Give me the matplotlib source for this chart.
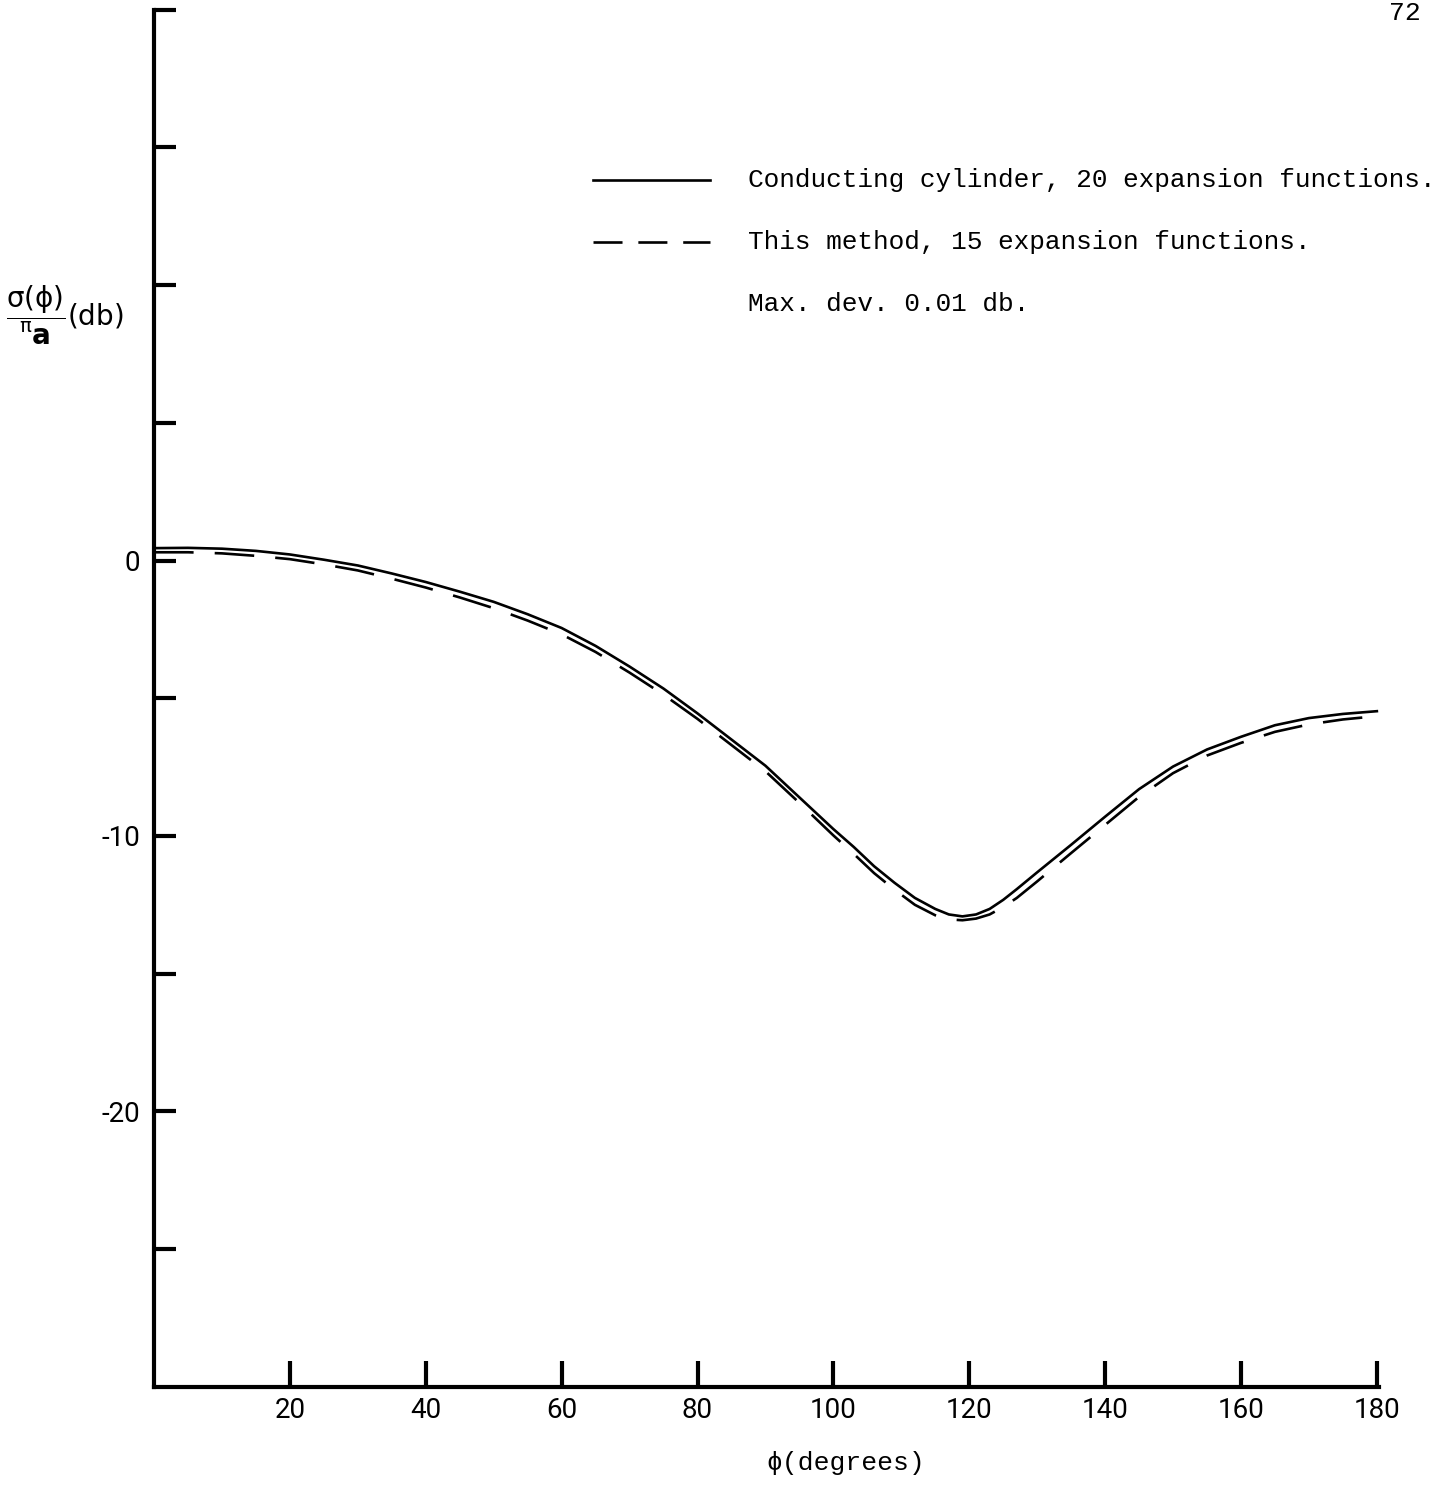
import matplotlib.pyplot as plt
from matplotlib.lines import Line2D

plt.rcParams['mathtext.default'] = 'regular'

# phi in degrees, sigma/(pi a) in db
phi_solid = [0, 5, 10, 15, 20, 25, 30, 35, 40, 45, 50, 55, 60, 65, 70, 75, 80, 85, 90,
             95, 100, 103, 106, 109, 112, 115, 117, 119, 121, 123, 125, 127, 130, 135,
             140, 145, 150, 155, 160, 165, 170, 175, 180]
sigma_solid = [0.45, 0.46, 0.43, 0.35, 0.22, 0.03, -0.18, -0.47, -0.78, -1.13, -1.5,
               -1.95, -2.45, -3.1, -3.85, -4.65, -5.55, -6.5, -7.45, -8.6, -9.75,
               -10.4, -11.1, -11.7, -12.25, -12.65, -12.85, -12.92, -12.85, -12.65,
               -12.32, -11.93, -11.32, -10.32, -9.3, -8.3, -7.48, -6.86, -6.4, -5.98,
               -5.72, -5.57, -5.47]

phi_dashed = [0, 5, 10, 15, 20, 25, 30, 35, 40, 45, 50, 55, 60, 65, 70, 75, 80, 85, 90,
              95, 100, 103, 106, 109, 112, 115, 117, 119, 121, 123, 125, 127, 130, 135,
              140, 145, 150, 155, 160, 165, 170, 175, 180]
sigma_dashed = [0.3, 0.3, 0.26, 0.17, 0.05, -0.14, -0.36, -0.66, -0.98, -1.34, -1.73,
                -2.18, -2.68, -3.32, -4.07, -4.87, -5.75, -6.7, -7.65, -8.8, -9.98,
                -10.65, -11.35, -11.95, -12.5, -12.88, -13.03, -13.06, -13.0, -12.85,
                -12.58, -12.25, -11.65, -10.62, -9.6, -8.58, -7.72, -7.08, -6.62, -6.22,
                -5.95, -5.77, -5.65]

x_ticks = [20, 40, 60, 80, 100, 120, 140, 160, 180]
y_ticks = [-25, -20, -15, -10, -5, 0, 5, 10, 15, 20]
y_labels = {0: '0', -10: '-10', -20: '-20'}

legend_labels = ['Conducting cylinder, 20 expansion functions.',
                 'This method, 15 expansion functions.',
                 'Max. dev. 0.01 db.']

mono = 'Liberation Mono'

fig = plt.figure(figsize=(14.53, 14.88), dpi=100)
ax = fig.add_axes([0.106, 0.068, 0.843, 0.9255])

ax.plot(phi_solid, sigma_solid, color='black', linewidth=1.9)
ax.plot(phi_dashed, sigma_dashed, color='black', linewidth=1.9,
        linestyle=(0, (15, 8)))

ax.set_xlim(0, 180.3)
ax.set_ylim(-30, 20)

for side in ['top', 'right']:
    ax.spines[side].set_visible(False)
for side in ['left', 'bottom']:
    ax.spines[side].set_linewidth(3)

ax.set_xticks(x_ticks)
ax.set_xticklabels([str(t) for t in x_ticks])
ax.set_yticks(y_ticks)
ax.set_yticklabels([y_labels.get(t, '') for t in y_ticks])
ax.tick_params(axis='x', direction='in', length=19, width=3, pad=7,
               labelsize=20)
ax.tick_params(axis='y', direction='in', length=16, width=3, pad=10,
               labelsize=20)
for lab in ax.get_xticklabels() + ax.get_yticklabels():
    lab.set_fontfamily('Roboto')

# legend drawn by hand, as on the original sheet
ax.add_line(Line2D([0.358, 0.454], [0.876, 0.876], transform=ax.transAxes,
                   color='black', linewidth=1.9))
ax.add_line(Line2D([0.358, 0.454], [0.831, 0.831], transform=ax.transAxes,
                   color='black', linewidth=1.9, linestyle=(0, (11, 6))))
for lab, yy in zip(legend_labels, [0.876, 0.831, 0.786]):
    ax.text(0.485, yy, lab, transform=ax.transAxes, fontsize=18.8,
            family=mono, va='center', ha='left')

fig.text(0.582, 0.017, '\u03d5(degrees)', fontsize=19, family=mono,
         ha='center', va='center')
fig.text(0.004, 0.788, r'$\dfrac{\sigma(\phi)}{{}^{\pi}\mathbf{a}}$(db)',
         fontsize=20, family='DejaVu Sans', ha='left', va='center')

# page number at the top edge of the scan
fig.text(0.967, 0.999, '72', fontsize=19, family=mono, ha='center', va='top')

plt.savefig('out.png', dpi=100, facecolor='white')
plt.close()
